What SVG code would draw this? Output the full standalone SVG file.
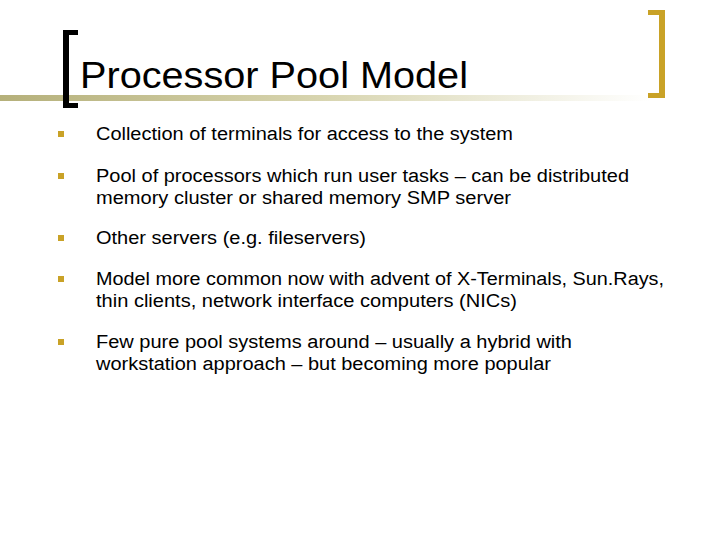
<svg xmlns="http://www.w3.org/2000/svg" width="720" height="540" viewBox="0 0 720 540">
<defs>
<linearGradient id="g" x1="0" x2="1" y1="0" y2="0">
<stop offset="0" stop-color="#b5b07a"/><stop offset="0.5" stop-color="#d8d5b0"/><stop offset="1" stop-color="#ffffff"/>
</linearGradient>
<style>
.b{font-family:"Liberation Sans",Arial,sans-serif;font-size:18px;fill:#000}
.q{fill:#c9a227}
</style>
</defs>
<rect width="720" height="540" fill="#fff"/>
<rect x="0" y="95" width="650" height="6" fill="url(#g)"/>
<path d="M78,30 H63 V108 H78 V103 H69 V35 H78 Z" fill="#000"/>
<path d="M648,10 H665 V98 H648 V93 H659 V15 H648 Z" fill="#c9a227"/>
<text x="80" y="88" font-family="Liberation Sans,Arial,sans-serif" font-size="36" fill="#000" textLength="388" lengthAdjust="spacingAndGlyphs">Processor Pool Model</text>
<g id="b1"><rect class="q" x="58" y="131" width="6" height="6"/><text class="b" x="96" y="140" textLength="417" lengthAdjust="spacingAndGlyphs">Collection of terminals for access to the system</text></g>
<g id="b2"><rect class="q" x="58" y="173" width="6" height="6"/><text class="b" x="96" y="182" textLength="533" lengthAdjust="spacingAndGlyphs">Pool of processors which run user tasks – can be distributed</text><text class="b" x="96" y="204" textLength="415" lengthAdjust="spacingAndGlyphs">memory cluster or shared memory SMP server</text></g>
<g id="b3"><rect class="q" x="58" y="235" width="6" height="6"/><text class="b" x="96" y="244" textLength="270" lengthAdjust="spacingAndGlyphs">Other servers (e.g. fileservers)</text></g>
<g id="b4"><rect class="q" x="58" y="276" width="6" height="6"/><text class="b" x="96" y="285" textLength="568" lengthAdjust="spacingAndGlyphs">Model more common now with advent of X-Terminals, Sun.Rays,</text><text class="b" x="96" y="307" textLength="421" lengthAdjust="spacingAndGlyphs">thin clients, network interface computers (NICs)</text></g>
<g id="b5"><rect class="q" x="58" y="339" width="6" height="6"/><text class="b" x="96" y="348" textLength="476" lengthAdjust="spacingAndGlyphs">Few pure pool systems around – usually a hybrid with</text><text class="b" x="96" y="370" textLength="455" lengthAdjust="spacingAndGlyphs">workstation approach – but becoming more popular</text></g>
</svg>
